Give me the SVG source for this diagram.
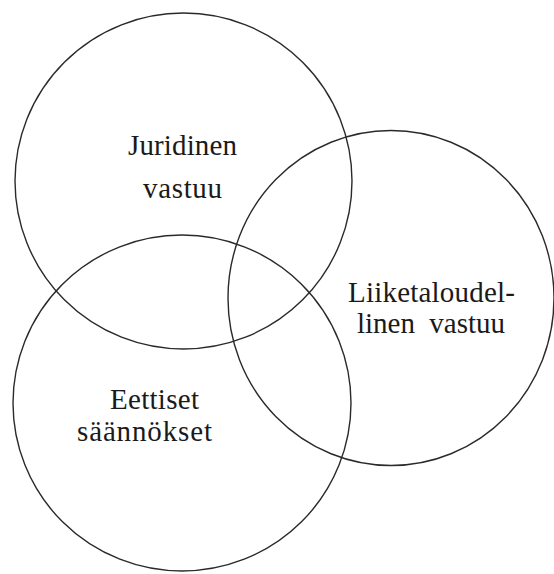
<svg xmlns="http://www.w3.org/2000/svg" width="554" height="574" viewBox="0 0 554 574">
<style>
.c{fill:none;stroke:#2a2a2a;stroke-width:1.4}
text{font-family:"Liberation Serif","Times New Roman","DejaVu Serif",serif;font-size:29px;fill:#1a1a1a}
</style>
<rect width="554" height="574" fill="#fff"/>
<g id="juridinen">
<ellipse class="c" cx="183.5" cy="181" rx="168.5" ry="168"/>
<text x="128" y="155" textLength="109" lengthAdjust="spacing">Juridinen</text>
<text x="143" y="198" textLength="79" lengthAdjust="spacing">vastuu</text>
</g>
<g id="liiketaloudellinen">
<ellipse class="c" cx="391" cy="298" rx="163" ry="167.5"/>
<text x="348" y="302" textLength="167" lengthAdjust="spacing">Liiketaloudel-</text>
<text x="357" y="333" textLength="148" lengthAdjust="spacing" xml:space="preserve">linen  vastuu</text>
</g>
<g id="eettiset">
<ellipse class="c" cx="182" cy="403" rx="169" ry="168"/>
<text x="110" y="409" textLength="89" lengthAdjust="spacing">Eettiset</text>
<text x="77" y="441" textLength="135" lengthAdjust="spacing">säännökset</text>
</g>
<g id="connectors"></g>
</svg>
